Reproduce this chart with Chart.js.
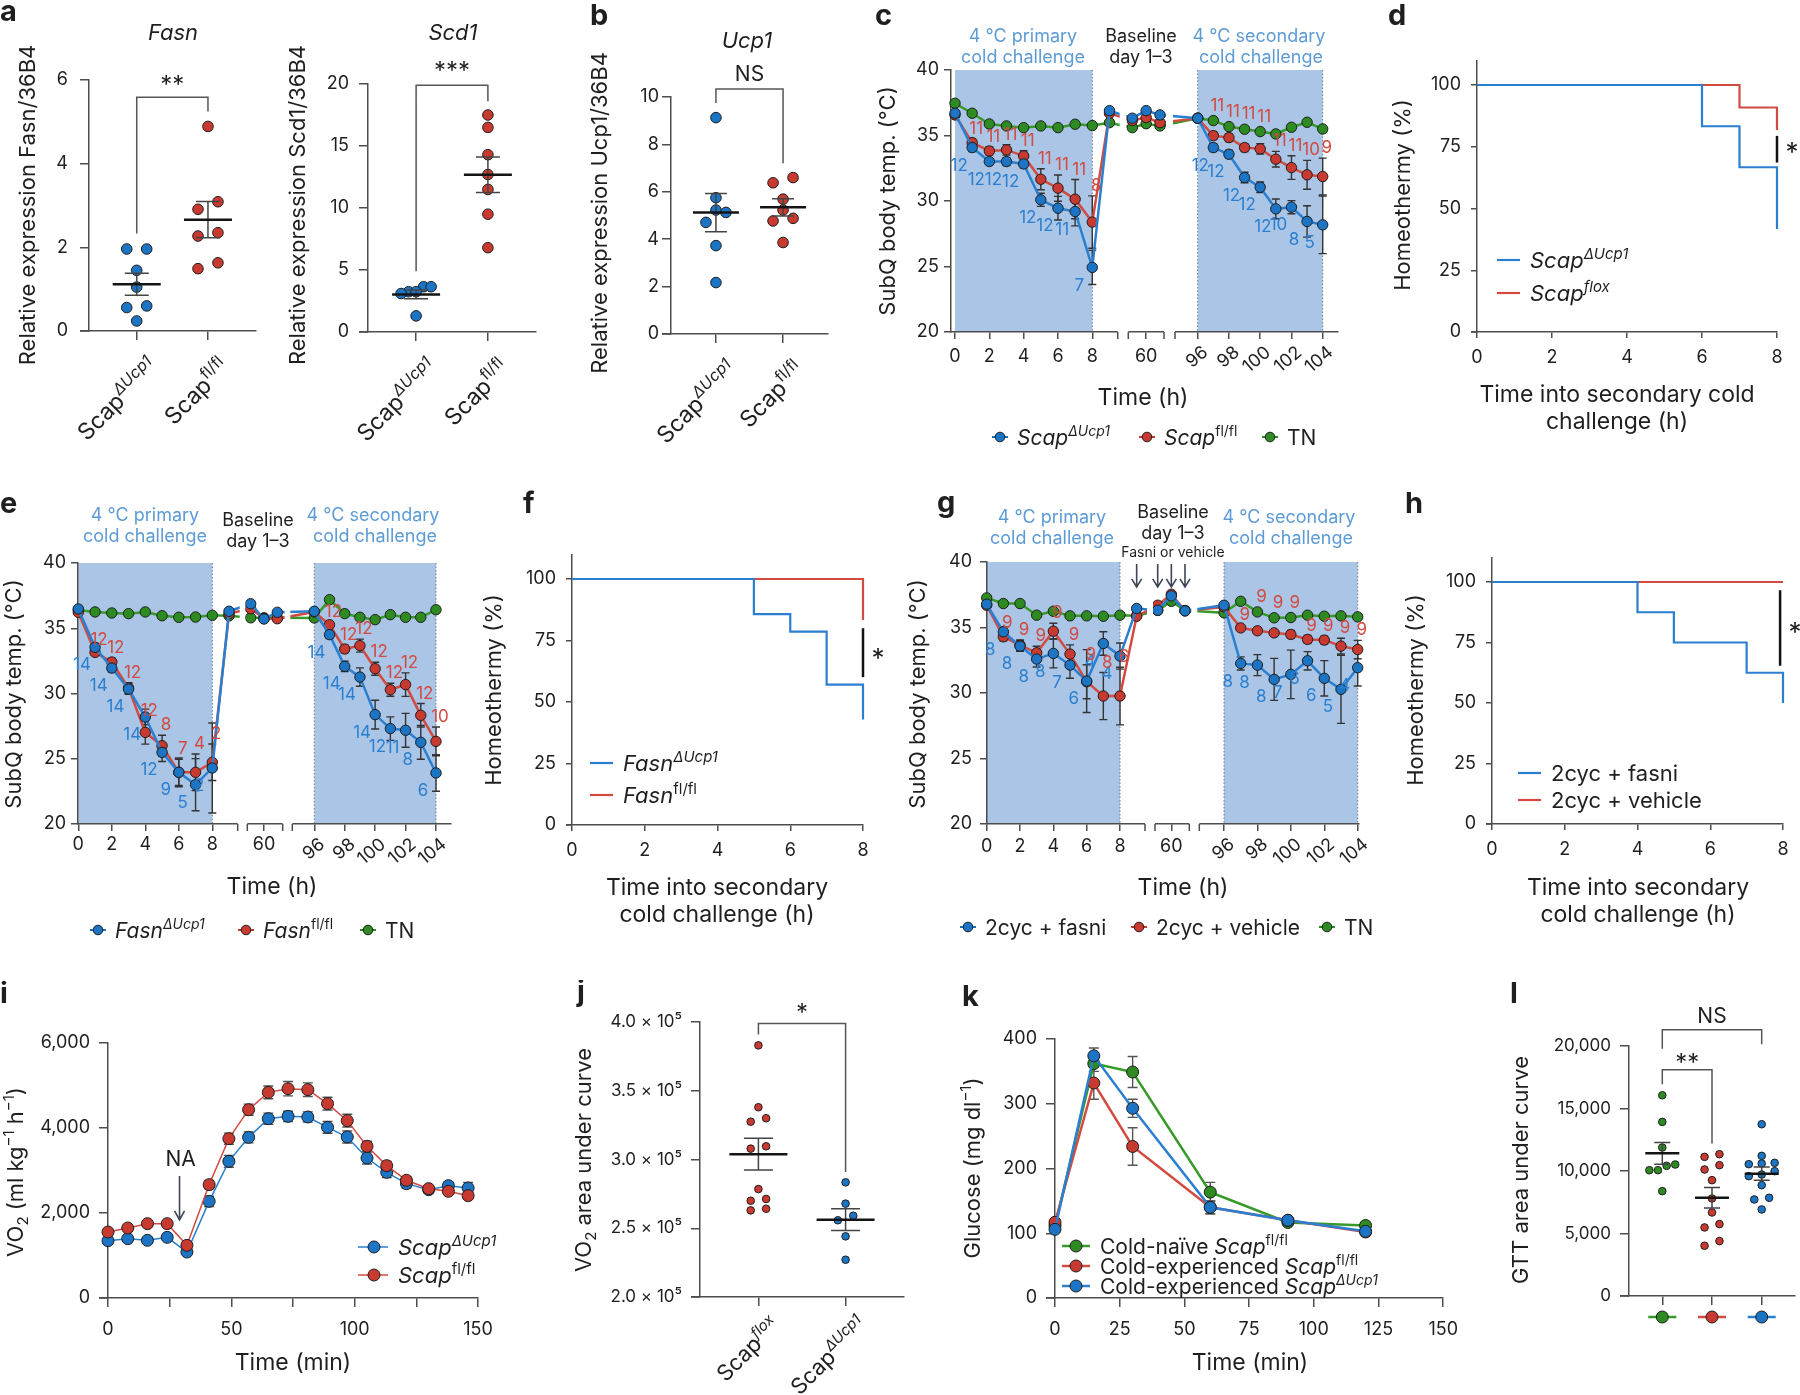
<!DOCTYPE html>
<html>
<head>
<meta charset="utf-8">
<title>Scap / Fasn cold challenge figure</title>
<script src="https://cdn.jsdelivr.net/npm/chart.js@4.4.0/dist/chart.umd.min.js"></script>
<style>
  html, body { margin: 0; padding: 0; background: #fff; }
  #fig { position: relative; width: 1800px; height: 1395px; overflow: hidden; background: #fff; }
  #fig canvas { position: absolute; }
</style>
</head>
<body>
<div id="fig"></div>
<script>
// ===================== values =====================

// a / b: qPCR, relative expression over 36B4
var fasnKO = [1.96, 1.96, 1.45, 1.05, 0.60, 0.56, 0.24];
var fasnWT = [4.89, 3.09, 2.91, 2.35, 2.27, 1.63, 1.49];
var scd1KO = [3.65, 3.65, 3.25, 3.25, 3.10, 1.30];
var scd1WT = [17.5, 16.5, 14.3, 12.7, 11.5, 9.5, 6.8];
var ucp1KO = [9.13, 5.75, 5.23, 5.13, 4.71, 3.73, 2.17];
var ucp1WT = [6.60, 6.38, 5.69, 5.23, 4.88, 4.77, 3.86];
var fasnTicks = [0, 2, 4, 6];
var scd1Ticks = [0, 5, 10, 15, 20];
var ucp1Ticks = [0, 2, 4, 6, 8, 10];

// c / e / g: SubQ temperature, hours (broken axis)
var tempTime  = [0, 1, 2, 3, 4, 5, 6, 7, 8, 9, 48, 60, 72, 96, 97, 98, 99, 100, 101, 102, 103, 104];
var tempTicks = [0, 2, 4, 6, 8, 60, 96, 98, 100, 102, 104];
var tempYTicks = [20, 25, 30, 35, 40];

var cKO    = [36.70, 34.08, 33.01, 33.01, 32.83, 30.09, 29.45, 29.20, 24.93, 36.90, 36.32, 36.90, 36.57, 36.32, 34.08, 33.57, 31.79, 31.05, 29.40, 29.53, 28.44, 28.18];
var cKOerr = [0.2, 0.3, 0.2, 0.3, 0.3, 0.5, 0.9, 1.1, 1.3, 0.1, 0.1, 0.1, 0.1, 0.1, 0.3, 0.3, 0.4, 0.4, 0.75, 0.5, 1.2, 2.2];
var cKOn   = [0, 12, 12, 12, 12, 12, 12, 11, 7, 0, 0, 0, 0, 0, 12, 12, 12, 12, 12, 10, 8, 5];
var cWT    = [36.57, 34.46, 33.82, 33.90, 33.44, 31.66, 30.98, 30.14, 28.39, 36.70, 36.14, 36.37, 35.98, 36.32, 34.99, 34.84, 34.08, 33.98, 33.19, 32.55, 32.00, 31.87];
var cWTerr = [0.2, 0.3, 0.3, 0.4, 0.4, 0.8, 1.0, 1.5, 2.0, 0.1, 0.1, 0.1, 0.1, 0.1, 0.3, 0.3, 0.3, 0.4, 0.6, 0.9, 1.1, 1.4];
var cWTn   = [0, 11, 11, 11, 11, 11, 11, 11, 8, 0, 0, 0, 0, 0, 11, 11, 11, 11, 11, 11, 10, 9];
var cTN    = [37.46, 36.70, 35.88, 35.73, 35.60, 35.73, 35.60, 35.86, 35.76, 35.98, 35.60, 35.90, 35.73, 36.32, 36.14, 35.68, 35.48, 35.30, 35.12, 35.63, 36.01, 35.50];

var eKO    = [36.48, 33.54, 31.95, 30.34, 28.20, 25.49, 23.96, 23.01, 24.29, 36.30, 36.88, 35.71, 36.22, 36.30, 34.51, 32.08, 31.26, 28.38, 27.31, 27.18, 26.26, 23.91];
var eKOerr = [0.1, 0.3, 0.3, 0.4, 0.6, 0.7, 1.1, 2.0, 3.45, 0.1, 0.1, 0.1, 0.1, 0.1, 0.3, 0.4, 0.7, 1.1, 0.9, 1.3, 1.3, 1.4];
var eKOn   = [0, 14, 14, 14, 14, 12, 9, 5, 2, 0, 0, 0, 0, 0, 14, 14, 14, 14, 12, 11, 8, 6];
var eWT    = [36.22, 33.15, 32.41, 30.42, 27.02, 26.00, 23.96, 23.96, 24.73, 36.12, 36.50, 35.75, 35.73, 36.25, 35.27, 33.41, 33.67, 31.90, 30.29, 30.68, 28.33, 26.33];
var eWTerr = [0.1, 0.2, 0.3, 0.4, 0.9, 0.8, 1.0, 1.4, 1.4, 0.1, 0.1, 0.1, 0.1, 0.1, 0.2, 0.3, 0.5, 0.5, 0.5, 0.9, 0.9, 1.1];
var eWTn   = [0, 12, 12, 12, 12, 8, 7, 4, 2, 0, 0, 0, 0, 0, 12, 12, 12, 12, 12, 12, 12, 10];
var eTN    = [36.40, 36.25, 36.17, 36.12, 36.25, 35.96, 35.84, 35.86, 35.99, 35.95, 35.80, 35.80, 35.80, 35.79, 37.19, 36.12, 35.84, 35.66, 36.04, 35.84, 35.84, 36.42];

var gFas    = [36.78, 34.67, 33.58, 32.59, 33.02, 32.13, 30.91, 33.78, 32.82, 36.45, 36.32, 37.41, 36.27, 36.70, 32.26, 32.13, 31.04, 31.42, 32.46, 31.12, 30.28, 31.93];
var gFasErr = [0.1, 0.4, 0.4, 0.6, 1.1, 1.0, 2.4, 0.9, 1.0, 0.1, 0.1, 0.2, 0.1, 0.1, 0.5, 0.8, 1.6, 1.85, 0.7, 1.35, 2.6, 1.4];
var gFasN   = [0, 8, 8, 8, 8, 7, 6, 4, 4, 0, 0, 0, 0, 0, 8, 8, 8, 7, 6, 6, 5, 4];
var gVeh    = [36.70, 34.29, 33.65, 33.07, 34.72, 32.97, 30.86, 29.77, 29.77, 35.86, 36.70, 37.54, 36.27, 36.57, 34.97, 34.75, 34.59, 34.47, 34.09, 34.04, 33.58, 33.32];
var gVehErr = [0.1, 0.3, 0.4, 0.5, 0.6, 0.7, 1.3, 1.8, 2.2, 0.1, 0.1, 0.1, 0.1, 0.1, 0.2, 0.2, 0.2, 0.3, 0.3, 0.3, 0.6, 0.7];
var gVehN   = [0, 9, 9, 9, 9, 9, 9, 8, 6, 0, 0, 0, 0, 0, 9, 9, 9, 9, 9, 9, 9, 9];
var gTN     = [37.26, 36.83, 36.83, 35.94, 36.24, 35.89, 35.89, 35.86, 35.94, 35.90, 36.30, 37.00, 36.30, 36.12, 37.00, 36.19, 35.74, 35.76, 35.94, 35.86, 35.89, 35.81];

// d / f / h: homeothermy (%) during the secondary challenge
var survXTicks = [0, 2, 4, 6, 8];
var survYTicks = [0, 25, 50, 75, 100];
var dTimeKO = [0, 6, 7, 8],    dSurvKO = [100, 83.3, 66.7, 41.7];
var dTimeWT = [0, 7, 8],       dSurvWT = [100, 90.9, 81.8];
var fTimeKO = [0, 5, 6, 7, 8], fSurvKO = [100, 85.7, 78.6, 57.1, 42.9];
var fTimeWT = [0, 8],          fSurvWT = [100, 83.3];
var hTimeKO = [0, 4, 5, 7, 8], hSurvKO = [100, 87.5, 75, 62.5, 50];
var hTimeWT = [0, 8],          hSurvWT = [100, 100];

// i: VO2 after NA
var iTime  = [0, 8, 16, 24, 32, 41, 49, 57, 65, 73, 81, 89, 97, 105, 113, 121, 130, 138, 146];
var iKO    = [1349, 1396, 1357, 1427, 1082, 2274, 3216, 3780, 4220, 4274, 4259, 4016, 3788, 3294, 2957, 2690, 2549, 2643, 2588];
var iKOerr = [60, 60, 60, 60, 60, 120, 140, 130, 130, 120, 120, 140, 140, 140, 120, 100, 80, 80, 130];
var iWT    = [1553, 1647, 1749, 1749, 1239, 2667, 3749, 4431, 4839, 4925, 4902, 4573, 4173, 3569, 3114, 2769, 2573, 2510, 2408];
var iWTerr = [60, 60, 60, 60, 60, 100, 130, 130, 150, 170, 160, 150, 150, 120, 100, 80, 70, 70, 70];
var iXTicks = [0, 25, 50, 75, 100, 125, 150];
var iYTicks = [0, 2000, 4000, 6000];

// j: VO2 area under curve
var jFlox = [383000, 338000, 330000, 327500, 309600, 307900, 278500, 271300, 270000, 264200, 263000];
var jKO   = [283400, 267900, 259100, 255800, 244100, 227100];
var jYTicks = [200000, 250000, 300000, 350000, 400000];

// k: GTT
var kTime     = [0, 15, 30, 60, 90, 120];
var kNaive    = [112, 362, 349, 163.5, 116.7, 112];
var kNaiveErr = [4, 12, 24, 15, 4, 3];
var kWT       = [117, 332, 234, 140, 120, 102];
var kWTerr    = [4, 25, 29, 10, 4, 3];
var kKO       = [106, 374, 293, 140, 120, 103];
var kKOerr    = [4, 12, 14, 10, 4, 3];
var kXTicks = [0, 25, 50, 75, 100, 125, 150];
var kYTicks = [0, 100, 200, 300, 400];

// l: GTT area under curve
var lNaive = [16058, 13928, 11877, 10519, 10413, 10066, 10066, 8388];
var lWT    = [11344, 11131, 10466, 10119, 9267, 7803, 6684, 5752, 5486, 4394, 4021];
var lKO    = [13741, 11211, 10652, 10599, 10545, 9986, 9720, 9587, 8868, 7856, 7723, 6924];
var lYTicks = [0, 5000, 10000, 15000, 20000];

// ===================== style =====================
var FONT = 'Inter, "Liberation Sans", Arial, sans-serif';
var INK = '#1f1f1f', AXIS = '#4d4d4d';
var BLUE = '#1c74c4', RED = '#c83a30', GREEN = '#2e8b22';
var BLUE_LN = '#2a7fd0', RED_LN = '#d24a40', GREEN_LN = '#359a26';
var SHADE = '#aac5e6', HEAD = '#5d9bd6', ARROW = '#3d4656';
var TICK = 18, TITLE = 23;

Chart.defaults.font.family = FONT;
Chart.defaults.color = INK;

var fig = document.getElementById('fig');

function fnt(size, p) { return (p && p.it ? 'italic ' : '') + (p && p.b ? 'bold ' : '') + size + 'px ' + FONT; }
function mean(a) { return a.reduce(function(s, v) { return s + v; }, 0) / a.length; }
function sem(a) {
  var m = mean(a);
  var ss = a.reduce(function(s, v) { return s + (v - m) * (v - m); }, 0);
  return Math.sqrt(ss / (a.length - 1)) / Math.sqrt(a.length);
}
var comma = function(v) { return v.toLocaleString('en-US'); };

function txt(ctx, s, x, y, o) {
  o = o || {};
  ctx.save();
  ctx.font = fnt(o.size || TICK, o);
  ctx.fillStyle = o.color || INK;
  ctx.textAlign = o.align || 'center';
  ctx.textBaseline = o.base || 'middle';
  ctx.translate(x, y);
  if (o.rot) ctx.rotate(o.rot);
  ctx.fillText(s, 0, 0);
  ctx.restore();
}

// text made of pieces: {t, it, sup, sub}
function rich(ctx, parts, x, y, o) {
  o = o || {};
  var size = o.size || 21, small = Math.round(size * 0.68);
  ctx.save();
  ctx.translate(x, y);
  if (o.rot) ctx.rotate(o.rot);
  ctx.textAlign = 'left';
  ctx.textBaseline = 'alphabetic';
  ctx.fillStyle = o.color || INK;
  var ws = parts.map(function(p) { ctx.font = fnt(p.sup || p.sub ? small : size, p); return ctx.measureText(p.t).width; });
  var total = ws.reduce(function(a, b) { return a + b; }, 0);
  var cx = o.align === 'right' ? -total : o.align === 'center' ? -total / 2 : 0;
  var by = o.mid ? size * 0.36 : 0;
  parts.forEach(function(p, i) {
    ctx.font = fnt(p.sup || p.sub ? small : size, p);
    ctx.fillText(p.t, cx, by + (p.sup ? -size * 0.42 : p.sub ? size * 0.22 : 0));
    cx += ws[i];
  });
  ctx.restore();
}

function star(ctx, s, x, y, size) {
  size = size || 24;
  txt(ctx, s, x, y + size * 0.55, { size: size, base: 'alphabetic' });
}
function letter(ctx, s, x, y) { txt(ctx, s, x, y, { size: 29, b: true, align: 'left', base: 'alphabetic' }); }
function yTitle(ctx, parts, x, y, size) { rich(ctx, parts, x, y, { rot: -Math.PI / 2, align: 'center', mid: true, size: size || 22 }); }
function extAxis(ctx, area, len) {
  ctx.strokeStyle = AXIS; ctx.lineWidth = 1.5;
  ctx.beginPath(); ctx.moveTo(area[0] - len, area[3]); ctx.lineTo(area[0], area[3]); ctx.stroke();
}

function linAxis(min, max, ticks, o) {
  o = o || {};
  return {
    type: 'linear', min: min, max: max,
    afterBuildTicks: function(s) { s.ticks = ticks.map(function(v) { return { value: v }; }); },
    ticks: {
      display: !o.hide, padding: o.pad == null ? 9 : o.pad, autoSkip: false, maxRotation: 0, minRotation: 0,
      font: { size: o.size || TICK, family: FONT }, color: INK,
      callback: o.fmt || function(v) { return String(v); }
    },
    grid: { display: true, drawOnChartArea: false, drawTicks: true, tickLength: o.tick || 8, color: AXIS, lineWidth: 1.5 },
    border: { display: true, color: AXIS, width: 1.5 }
  };
}

// one canvas per panel; box / area are page pixels [x, y, w, h] / [l, t, r, b]
function makeChart(type, box, area, datasets, scales, deco) {
  var cv = document.createElement('canvas');
  cv.width = box[2]; cv.height = box[3];
  cv.style.left = box[0] + 'px'; cv.style.top = box[1] + 'px';
  cv.style.width = box[2] + 'px'; cv.style.height = box[3] + 'px';
  fig.appendChild(cv);
  scales.x.afterFit = function(s) { s.height = box[1] + box[3] - area[3]; };
  scales.y.afterFit = function(s) { s.width = area[0] - box[0]; };
  function hook(name) {
    return function(chart) {
      if (!deco[name]) return;
      var ctx = chart.ctx;
      ctx.save();
      ctx.translate(-box[0], -box[1]);
      var X = function(v) { return chart.scales.x.getPixelForValue(v) + box[0]; };
      var Y = function(v) { return chart.scales.y.getPixelForValue(v) + box[1]; };
      deco[name](ctx, X, Y);
      ctx.restore();
    };
  }
  return new Chart(cv, {
    type: type,
    data: { datasets: datasets },
    options: {
      responsive: false, animation: false, devicePixelRatio: 1, events: [],
      layout: { padding: { left: 0, top: area[1] - box[1], right: box[0] + box[2] - area[2], bottom: 0 } },
      scales: scales,
      plugins: { legend: { display: false }, tooltip: { enabled: false } }
    },
    plugins: [{ id: 'deco', beforeDraw: hook('under'), beforeDatasetsDraw: hook('mid'),
                afterDatasetsDraw: hook('over'), afterDraw: hook('top') }]
  });
}

// ---------- dot plots (a, b, j, l) ----------
function swarm(vals, ppy, ppx, d, sMax, wMax) {
  var idx = vals.map(function(v, i) { return i; }).sort(function(a, b) { return vals[a] - vals[b]; });
  var off = [], row = [];
  function flush() {
    var k = row.length, s = k > 1 ? Math.min(sMax, wMax / (k - 1)) : 0;
    row.forEach(function(i, j) { off[i] = (j - (k - 1) / 2) * s / ppx; });
    row = [];
  }
  idx.forEach(function(i) {
    if (row.length && (vals[i] - vals[row[0]]) * ppy > d) flush();
    row.push(i);
  });
  flush();
  return off;
}

function meanSem(ctx, X, Y, cat, vals, halfW, capW) {
  var m = mean(vals), se = sem(vals), x = X(cat);
  ctx.strokeStyle = '#444'; ctx.lineWidth = 1.5;
  ctx.beginPath();
  ctx.moveTo(x, Y(m + se)); ctx.lineTo(x, Y(m - se));
  ctx.moveTo(x - capW, Y(m + se)); ctx.lineTo(x + capW, Y(m + se));
  ctx.moveTo(x - capW, Y(m - se)); ctx.lineTo(x + capW, Y(m - se));
  ctx.stroke();
  ctx.strokeStyle = '#141414'; ctx.lineWidth = 2.5;
  ctx.beginPath(); ctx.moveTo(x - halfW, Y(m)); ctx.lineTo(x + halfW, Y(m)); ctx.stroke();
}

function bracket(ctx, X, Y, b) {
  var x1 = X(b.c1), x2 = X(b.c2), yt = Y(b.top);
  ctx.strokeStyle = '#555'; ctx.lineWidth = 1.5;
  ctx.beginPath();
  ctx.moveTo(x1, Y(b.l1)); ctx.lineTo(x1, yt); ctx.lineTo(x2, yt); ctx.lineTo(x2, Y(b.l2));
  ctx.stroke();
  if (b.label.indexOf('*') >= 0) star(ctx, b.label, (x1 + x2) / 2, Y(b.ly), 24);
  else txt(ctx, b.label, (x1 + x2) / 2, Y(b.ly), { size: 21 });
}

function dotPanel(o) {
  var area = o.area, n = o.groups.length, xmin = 0.33, xmax = n + 0.67;
  var ppx = (area[2] - area[0]) / (xmax - xmin), ppy = (area[3] - area[1]) / (o.ymax - o.ymin);
  var datasets = o.groups.map(function(g, gi) {
    var off = swarm(g.vals, ppy, ppx, o.r * 2, o.sMax, o.wMax);
    return {
      data: g.vals.map(function(v, i) { return { x: gi + 1 + off[i], y: v }; }),
      backgroundColor: g.color, borderColor: '#1e1e1e', borderWidth: 1, pointRadius: o.r, clip: false
    };
  });
  var cats = o.groups.map(function(g, i) { return i + 1; });
  var scales = {
    x: linAxis(xmin, xmax, cats, { hide: true, tick: 9 }),
    y: linAxis(o.ymin, o.ymax, o.yticks, { fmt: o.yfmt, size: o.tickSize, pad: o.ypad, tick: 9 })
  };
  var lab = o.labAt || [20, 36, 23];
  makeChart('scatter', o.box, area, datasets, scales, {
    over: function(ctx, X, Y) {
      o.groups.forEach(function(g, gi) { meanSem(ctx, X, Y, gi + 1, g.vals, o.meanW, o.capW); });
      (o.brackets || []).forEach(function(b) { bracket(ctx, X, Y, b); });
    },
    top: function(ctx, X, Y) {
      extAxis(ctx, area, 9);
      if (o.catLabels) o.catLabels.forEach(function(p, i) {
        rich(ctx, p, X(i + 1) + lab[0], area[3] + lab[1], { rot: -Math.PI / 4, align: 'right', size: lab[2] });
      });
      if (o.extra) o.extra(ctx, X, Y);
    }
  });
}

// ---------- broken-axis temperature panels (c, e, g) ----------
function breakMap(segs) {
  return function(t) {
    for (var i = 0; i < segs.length; i++) {
      var s = segs[i];
      if (i === segs.length - 1 || t < segs[i + 1].from) return s.p0 + (t - s.t0) * (s.p1 - s.p0) / (s.t1 - s.t0);
    }
  };
}

function keyDot(ctx, x, y, color) {
  ctx.strokeStyle = color; ctx.lineWidth = 2;
  ctx.beginPath(); ctx.moveTo(x - 8, y); ctx.lineTo(x + 8, y); ctx.stroke();
  ctx.beginPath(); ctx.arc(x, y, 4.8, 0, Math.PI * 2);
  ctx.fillStyle = color; ctx.fill();
  ctx.lineWidth = 1; ctx.strokeStyle = '#1e1e1e'; ctx.stroke();
}

function errBars(ctx, X, Y, xs, vals, errs, cap, color) {
  ctx.strokeStyle = color || '#333'; ctx.lineWidth = 1.4;
  xs.forEach(function(xv, i) {
    var e = errs[i], x = X(xv), y1 = Y(vals[i] + e), y2 = Y(vals[i] - e);
    ctx.beginPath();
    ctx.moveTo(x, y1); ctx.lineTo(x, y2);
    ctx.moveTo(x - cap, y1); ctx.lineTo(x + cap, y1);
    ctx.moveTo(x - cap, y2); ctx.lineTo(x + cap, y2);
    ctx.stroke();
  });
}

function tempPanel(o) {
  var area = o.area, brk = breakMap(o.segs);
  var xs = tempTime.map(brk);
  var datasets = o.series.map(function(s) {
    return {
      data: tempTime.map(function(t, i) { return { x: xs[i], y: s.vals[i] }; }),
      borderColor: s.line, backgroundColor: s.fill, pointBackgroundColor: s.fill,
      pointBorderColor: '#1e1e1e', pointBorderWidth: 1, pointRadius: 5.2, borderWidth: 2.5,
      tension: 0, clip: false
    };
  });
  var scales = {
    x: linAxis(area[0], area[2], tempTicks.map(brk), { hide: true, tick: 7 }),
    y: linAxis(20, 40, tempYTicks, { pad: o.ypad, tick: 7 })
  };
  makeChart('line', o.box, area, datasets, scales, {
    under: function(ctx, X, Y) {
      var top = Y(40), bot = Y(20);
      ctx.fillStyle = SHADE;
      [[0, 8], [96, 104]].forEach(function(r) {
        ctx.fillRect(X(brk(r[0])), top, X(brk(r[1])) - X(brk(r[0])), bot - top);
      });
      ctx.strokeStyle = '#6b7a90'; ctx.lineWidth = 1; ctx.setLineDash([1.5, 2]);
      [8, 96, 104].forEach(function(t) {
        var x = X(brk(t));
        ctx.beginPath(); ctx.moveTo(x, top); ctx.lineTo(x, bot); ctx.stroke();
      });
      ctx.setLineDash([]);
    },
    mid: function(ctx, X, Y) {
      o.series.forEach(function(s) { if (s.err) errBars(ctx, X, Y, xs, s.vals, s.err, 4, '#333'); });
    },
    over: function(ctx, X, Y) {
      var top = Y(40), bot = Y(20);
      o.gaps.forEach(function(g) {
        ctx.fillStyle = '#fff';
        ctx.fillRect(g[0] + 2, top - 2, g[1] - g[0] - 4, bot - top + 2);
        ctx.fillRect(g[0], bot - 2, g[1] - g[0], 4);
        ctx.strokeStyle = AXIS; ctx.lineWidth = 1.5;
        ctx.beginPath();
        ctx.moveTo(g[0], bot); ctx.lineTo(g[0], bot + 7);
        ctx.moveTo(g[1], bot); ctx.lineTo(g[1], bot + 7);
        ctx.stroke();
      });
      // group sizes: KO below-left; control above its error bar,
      // or above the TN line when that sits close during the secondary challenge
      o.series.forEach(function(s) {
        if (!s.n) return;
        s.n.forEach(function(k, i) {
          if (!k) return;
          var x = X(xs[i]);
          if (s.below) { txt(ctx, String(k), x - 13, Y(s.vals[i]) + 18, { size: 17, color: s.line }); return; }
          var topV = s.vals[i] + s.err[i], y = Y(topV) - 10;
          if (s.avoid && tempTime[i] >= 96 && s.avoid[i] > topV && s.avoid[i] - topV < 1.3) y = Y(s.avoid[i]) - 15;
          txt(ctx, String(k), x + 4, y, { size: 17, color: s.line });
        });
      });
    },
    top: function(ctx, X, Y) {
      var bot = Y(20);
      tempTicks.forEach(function(t) {
        var x = X(brk(t));
        if (t >= 96) {
          txt(ctx, String(t), x + 8, bot + 18, { size: TICK, align: 'right', rot: -40 * Math.PI / 180 });
        } else {
          txt(ctx, String(t), x, bot + o.tickDy, { size: TICK });
        }
      });
      o.extra(ctx, X, Y, brk);
    }
  });
}

function headers(ctx, h) {
  txt(ctx, '4 °C primary', h[0], h[1], { size: 18, color: HEAD });
  txt(ctx, 'cold challenge', h[0], h[1] + 21, { size: 18, color: HEAD });
  txt(ctx, 'Baseline', h[2], h[3], { size: 18 });
  txt(ctx, 'day 1–3', h[2], h[3] + 21, { size: 18 });
  txt(ctx, '4 °C secondary', h[4], h[5], { size: 18, color: HEAD });
  txt(ctx, 'cold challenge', h[4] + 2, h[5] + 21, { size: 18, color: HEAD });
}

function keyRow(ctx, items, y) {
  items.forEach(function(it) {
    keyDot(ctx, it.x, y, it.color);
    rich(ctx, it.parts, it.x + 17, y, { size: 21, mid: true });
  });
}

// ---------- survival panels (d, f, h) ----------
function kmPanel(o) {
  var area = o.area;
  var datasets = o.series.map(function(s) {
    return {
      data: s.t.map(function(t, i) { return { x: t, y: s.v[i] }; }),
      borderColor: s.color, borderWidth: 2.2, pointRadius: 0, stepped: true, fill: false, clip: false
    };
  });
  var scales = {
    x: linAxis(0, 8, survXTicks, { tick: 6, pad: 9 }),
    y: linAxis(0, 110, survYTicks, { tick: 6, pad: 10 })
  };
  makeChart('line', o.box, area, datasets, scales, {
    top: function(ctx, X, Y) {
      extAxis(ctx, area, 6);
      ctx.strokeStyle = '#111'; ctx.lineWidth = 2.5;
      ctx.beginPath(); ctx.moveTo(X(o.sig[0]), Y(o.sig[1])); ctx.lineTo(X(o.sig[0]), Y(o.sig[2])); ctx.stroke();
      star(ctx, '*', X(o.sig[0]) + 15, Y(o.sig[3]), 26);
      o.series.forEach(function(s, i) {
        var y = o.key[1] + i * o.key[2];
        ctx.strokeStyle = s.color; ctx.lineWidth = 2.2;
        ctx.beginPath(); ctx.moveTo(o.key[0], y); ctx.lineTo(o.key[0] + 23, y); ctx.stroke();
        rich(ctx, s.parts, o.key[0] + 33, y, { size: 22, mid: true });
      });
      yTitle(ctx, [{ t: 'Homeothermy (%)' }], o.yt[0], o.yt[1]);
      txt(ctx, o.xt[0], o.xt[2], o.xt[3], { size: TITLE });
      txt(ctx, o.xt[1], o.xt[2], o.xt[3] + 27, { size: TITLE });
      letter(ctx, o.letter[0], o.letter[1], o.letter[2]);
    }
  });
}

// ===================== panels =====================
var KO_LBL = [{ t: 'Scap' }, { t: 'ΔUcp1', it: true, sup: true }];
var WT_LBL = [{ t: 'Scap' }, { t: 'fl/fl', sup: true }];

// a: Fasn
dotPanel({
  box: [0, 0, 262, 450], area: [89, 80, 256, 331], ymin: 0, ymax: 6, yticks: fasnTicks, ypad: 12,
  groups: [{ vals: fasnKO, color: BLUE }, { vals: fasnWT, color: RED }],
  r: 5.3, sMax: 20, wMax: 30, meanW: 24, capW: 12, catLabels: [KO_LBL, WT_LBL], labAt: [23, 38, 23],
  brackets: [{ c1: 1, c2: 2, top: 5.59, l1: 2.33, l2: 5.25, label: '**', ly: 6.0 }],
  extra: function(ctx) {
    letter(ctx, 'a', 0, 21);
    txt(ctx, 'Fasn', 173, 33, { size: 22, it: true });
    yTitle(ctx, [{ t: 'Relative expression Fasn/36B4' }], 27, 205);
  }
});

// a: Scd1
dotPanel({
  box: [262, 0, 288, 450], area: [368, 84, 536, 332], ymin: 0, ymax: 20, yticks: scd1Ticks, ypad: 10,
  groups: [{ vals: scd1KO, color: BLUE }, { vals: scd1WT, color: RED }],
  r: 5.3, sMax: 20, wMax: 30, meanW: 24, capW: 12, catLabels: [KO_LBL, WT_LBL], labAt: [23, 38, 23],
  brackets: [{ c1: 1, c2: 2, top: 19.9, l1: 4.9, l2: 18.6, label: '***', ly: 21.5 }],
  extra: function(ctx) {
    txt(ctx, 'Scd1', 453, 33, { size: 22, it: true });
    yTitle(ctx, [{ t: 'Relative expression Scd1/36B4' }], 297, 205);
  }
});

// b: Ucp1
dotPanel({
  box: [550, 0, 290, 450], area: [671, 97, 828, 334], ymin: 0, ymax: 10, yticks: ucp1Ticks, ypad: 3,
  groups: [{ vals: ucp1KO, color: BLUE }, { vals: ucp1WT, color: RED }],
  r: 5.3, sMax: 20, wMax: 30, meanW: 23, capW: 11, catLabels: [KO_LBL, WT_LBL], labAt: [23, 38, 23],
  brackets: [{ c1: 1, c2: 2, top: 10.34, l1: 9.75, l2: 7.2, label: 'NS', ly: 10.93 }],
  extra: function(ctx) {
    letter(ctx, 'b', 590, 25);
    txt(ctx, 'Ucp1', 747, 41, { size: 22, it: true });
    yTitle(ctx, [{ t: 'Relative expression Ucp1/36B4' }], 599, 213);
  }
});

// c: Scap, SubQ temperature
tempPanel({
  box: [840, 0, 520, 460], area: [951, 70, 1338, 332], ypad: 5, tickDy: 25,
  segs: [{ t0: 0, t1: 8, p0: 955, p1: 1092.3, from: -1 }, { t0: 48, t1: 72, p0: 1132.3, p1: 1160, from: 20 },
         { t0: 96, t1: 104, p0: 1197.7, p1: 1322.7, from: 85 }],
  gaps: [[1117.7, 1128.3], [1164, 1175]],
  series: [
    { vals: cKO, err: cKOerr, n: cKOn, fill: BLUE, line: BLUE_LN, below: true },
    { vals: cWT, err: cWTerr, n: cWTn, fill: RED, line: RED_LN, avoid: cTN },
    { vals: cTN, fill: GREEN, line: GREEN_LN }
  ],
  extra: function(ctx) {
    letter(ctx, 'c', 875, 25);
    headers(ctx, [1023, 37, 1141, 37, 1259, 37]);
    yTitle(ctx, [{ t: 'SubQ body temp. (°C)' }], 887, 201);
    txt(ctx, 'Time (h)', 1143, 398, { size: TITLE });
    keyRow(ctx, [
      { x: 1000, color: BLUE, parts: [{ t: 'Scap', it: true }, { t: 'ΔUcp1', it: true, sup: true }] },
      { x: 1147, color: RED, parts: [{ t: 'Scap', it: true }, { t: 'fl/fl', sup: true }] },
      { x: 1270, color: GREEN, parts: [{ t: 'TN' }] }
    ], 437);
  }
});

// d: Scap homeothermy
kmPanel({
  box: [1360, 0, 440, 450], area: [1477, 60.3, 1777, 332],
  series: [
    { t: dTimeKO, v: dSurvKO, color: BLUE_LN, parts: [{ t: 'Scap', it: true }, { t: 'ΔUcp1', it: true, sup: true }] },
    { t: dTimeWT, v: dSurvWT, color: RED_LN, parts: [{ t: 'Scap', it: true }, { t: 'flox', it: true, sup: true }] }
  ],
  sig: [8, 79.4, 68.6, 74.9], key: [1497, 260, 33],
  yt: [1402, 195], xt: ['Time into secondary cold', 'challenge (h)', 1617, 395], letter: ['d', 1388, 25]
});

// e: Fasn, SubQ temperature
tempPanel({
  box: [0, 490, 470, 460], area: [78, 563, 451, 824], ypad: 5, tickDy: 21,
  segs: [{ t0: 0, t1: 8, p0: 78.3, p1: 212.3, from: -1 }, { t0: 48, t1: 72, p0: 250.7, p1: 277.3, from: 20 },
         { t0: 96, t1: 104, p0: 314.3, p1: 436, from: 85 }],
  gaps: [[237.7, 247.3], [282.7, 292.3]],
  series: [
    { vals: eKO, err: eKOerr, n: eKOn, fill: BLUE, line: BLUE_LN, below: true },
    { vals: eWT, err: eWTerr, n: eWTn, fill: RED, line: RED_LN },
    { vals: eTN, fill: GREEN, line: GREEN_LN }
  ],
  extra: function(ctx) {
    letter(ctx, 'e', 0, 513);
    headers(ctx, [145, 516, 258, 521, 373, 516]);
    yTitle(ctx, [{ t: 'SubQ body temp. (°C)' }], 13, 694);
    txt(ctx, 'Time (h)', 272, 887, { size: TITLE });
    keyRow(ctx, [
      { x: 98, color: BLUE, parts: [{ t: 'Fasn', it: true }, { t: 'ΔUcp1', it: true, sup: true }] },
      { x: 246, color: RED, parts: [{ t: 'Fasn', it: true }, { t: 'fl/fl', sup: true }] },
      { x: 368, color: GREEN, parts: [{ t: 'TN' }] }
    ], 930);
  }
});

// f: Fasn homeothermy
kmPanel({
  box: [470, 490, 420, 450], area: [572, 554.4, 863, 825],
  series: [
    { t: fTimeKO, v: fSurvKO, color: BLUE_LN, parts: [{ t: 'Fasn', it: true }, { t: 'ΔUcp1', it: true, sup: true }] },
    { t: fTimeWT, v: fSurvWT, color: RED_LN, parts: [{ t: 'Fasn', it: true }, { t: 'fl/fl', sup: true }] }
  ],
  sig: [8, 80.0, 60.1, 69.9], key: [590, 763, 32],
  yt: [493, 690], xt: ['Time into secondary', 'cold challenge (h)', 717, 888], letter: ['f', 523, 513]
});

// g: 2cyc + fasni / vehicle
tempPanel({
  box: [890, 490, 490, 460], area: [987, 562, 1359, 824], ypad: 8, tickDy: 23,
  segs: [{ t0: 0, t1: 8, p0: 986.7, p1: 1120, from: -1 }, { t0: 48, t1: 72, p0: 1157.7, p1: 1185, from: 20 },
         { t0: 96, t1: 104, p0: 1224, p1: 1357.7, from: 85 }],
  gaps: [[1145, 1155], [1189.3, 1199.3]],
  series: [
    { vals: gFas, err: gFasErr, n: gFasN, fill: BLUE, line: BLUE_LN, below: true },
    { vals: gVeh, err: gVehErr, n: gVehN, fill: RED, line: RED_LN, avoid: gTN },
    { vals: gTN, fill: GREEN, line: GREEN_LN }
  ],
  extra: function(ctx, X, Y, brk) {
    letter(ctx, 'g', 937, 512);
    headers(ctx, [1052, 518, 1173, 513, 1289, 518]);
    txt(ctx, 'Fasni or vehicle', 1173, 553, { size: 14 });
    ctx.strokeStyle = ARROW; ctx.lineWidth = 1.6;
    [9, 48, 60, 72].forEach(function(t) {
      var x = X(brk(t)), y0 = Y(39.85), y1 = Y(38.1);
      ctx.beginPath();
      ctx.moveTo(x, y0); ctx.lineTo(x, y1);
      ctx.moveTo(x - 5, y1 - 8); ctx.lineTo(x, y1); ctx.lineTo(x + 5, y1 - 8);
      ctx.stroke();
    });
    yTitle(ctx, [{ t: 'SubQ body temp. (°C)' }], 917, 694);
    txt(ctx, 'Time (h)', 1183, 888, { size: TITLE });
    keyRow(ctx, [
      { x: 968, color: BLUE, parts: [{ t: '2cyc + fasni' }] },
      { x: 1139, color: RED, parts: [{ t: '2cyc + vehicle' }] },
      { x: 1327, color: GREEN, parts: [{ t: 'TN' }] }
    ], 927);
  }
});

// h: fasni homeothermy
kmPanel({
  box: [1370, 490, 430, 450], area: [1492, 557.8, 1783, 824],
  series: [
    { t: hTimeKO, v: hSurvKO, color: BLUE_LN, parts: [{ t: '2cyc + fasni' }] },
    { t: hTimeWT, v: hSurvWT, color: RED_LN, parts: [{ t: '2cyc + vehicle' }] }
  ],
  sig: [7.92, 96.6, 65.4, 81.4], key: [1518, 773, 27],
  yt: [1415, 690], xt: ['Time into secondary', 'cold challenge (h)', 1638, 888], letter: ['h', 1405, 513]
});

// i: VO2 trace
(function() {
  var box = [0, 980, 540, 415], area = [108, 1043, 478, 1298];
  function ds(vals, fill, line) {
    return {
      data: iTime.map(function(t, i) { return { x: t, y: vals[i] }; }),
      borderColor: line, backgroundColor: fill, pointBackgroundColor: fill, pointBorderColor: '#1e1e1e',
      pointBorderWidth: 1, pointRadius: 6, borderWidth: 1.5, tension: 0, clip: false
    };
  }
  makeChart('line', box, area, [ds(iWT, RED, RED_LN), ds(iKO, BLUE, BLUE_LN)], {
    x: linAxis(0, 150, iXTicks, { tick: 9, pad: 12, fmt: function(v) { return v % 50 === 0 ? String(v) : ''; } }),
    y: linAxis(0, 6000, iYTicks, { tick: 9, pad: 9, fmt: comma })
  }, {
    mid: function(ctx, X, Y) {
      errBars(ctx, X, Y, iTime, iKO, iKOerr, 5, '#555');
      errBars(ctx, X, Y, iTime, iWT, iWTerr, 5, '#555');
    },
    top: function(ctx, X, Y) {
      extAxis(ctx, area, 9);
      letter(ctx, 'i', 0, 1003);
      var ax = X(29);
      txt(ctx, 'NA', ax + 1, Y(3250), { size: 21 });
      ctx.strokeStyle = ARROW; ctx.lineWidth = 1.6;
      ctx.beginPath();
      ctx.moveTo(ax, Y(2870)); ctx.lineTo(ax, Y(1840));
      ctx.moveTo(ax - 5, Y(1840) - 9); ctx.lineTo(ax, Y(1840)); ctx.lineTo(ax + 5, Y(1840) - 9);
      ctx.stroke();
      yTitle(ctx, [{ t: 'VO' }, { t: '2', sub: true }, { t: ' (ml kg' }, { t: '−1', sup: true }, { t: ' h' }, { t: '−1', sup: true }, { t: ')' }], 15, 1172);
      txt(ctx, 'Time (min)', 293, 1363, { size: TITLE });
      [[BLUE, BLUE_LN, [{ t: 'Scap', it: true }, { t: 'ΔUcp1', it: true, sup: true }], 1247],
       [RED, RED_LN, [{ t: 'Scap', it: true }, { t: 'fl/fl', sup: true }], 1275]].forEach(function(k) {
        ctx.strokeStyle = k[1]; ctx.lineWidth = 1.5;
        ctx.beginPath(); ctx.moveTo(358, k[3]); ctx.lineTo(388, k[3]); ctx.stroke();
        ctx.beginPath(); ctx.arc(374, k[3], 6, 0, Math.PI * 2); ctx.fillStyle = k[0]; ctx.fill();
        ctx.lineWidth = 1; ctx.strokeStyle = '#1e1e1e'; ctx.stroke();
        rich(ctx, k[2], 398, k[3], { size: 22, mid: true });
      });
    }
  });
})();

// j: VO2 AUC
dotPanel({
  box: [540, 980, 400, 415], area: [700, 1022, 904, 1297], ymin: 200000, ymax: 400000, yticks: jYTicks,
  ypad: 9, tickSize: 17, yfmt: function(v) { return (v / 100000).toFixed(1) + ' × 10⁵'; },
  groups: [{ vals: jFlox, color: RED }, { vals: jKO, color: BLUE }],
  r: 3.8, sMax: 15.4, wMax: 26, meanW: 29, capW: 14.5, labAt: [23, 30, 22],
  catLabels: [[{ t: 'Scap' }, { t: 'flox', it: true, sup: true }], [{ t: 'Scap' }, { t: 'ΔUcp1', it: true, sup: true }]],
  brackets: [{ c1: 1, c2: 2, top: 399000, l1: 391000, l2: 291000, label: '*', ly: 410000 }],
  extra: function(ctx) {
    letter(ctx, 'j', 577, 1001);
    yTitle(ctx, [{ t: 'VO' }, { t: '2', sub: true }, { t: ' area under curve' }], 583, 1160);
  }
});

// k: GTT
(function() {
  var box = [940, 980, 530, 415], area = [1055, 1039, 1444, 1298];
  function ds(vals, fill, line) {
    return {
      data: kTime.map(function(t, i) { return { x: t, y: vals[i] }; }),
      borderColor: line, backgroundColor: fill, pointBackgroundColor: fill, pointBorderColor: '#1e1e1e',
      pointBorderWidth: 1, pointRadius: 6, borderWidth: 2.5, tension: 0, clip: false
    };
  }
  makeChart('line', box, area, [ds(kKO, BLUE, BLUE_LN), ds(kWT, RED, RED_LN), ds(kNaive, GREEN, GREEN_LN)], {
    x: linAxis(0, 150, kXTicks, { tick: 9, pad: 12 }),
    y: linAxis(0, 400, kYTicks, { tick: 9, pad: 9 })
  }, {
    mid: function(ctx, X, Y) {
      errBars(ctx, X, Y, kTime, kNaive, kNaiveErr, 5, '#555');
      errBars(ctx, X, Y, kTime, kWT, kWTerr, 5, '#555');
      errBars(ctx, X, Y, kTime, kKO, kKOerr, 5, '#555');
    },
    top: function(ctx, X, Y) {
      extAxis(ctx, area, 9);
      letter(ctx, 'k', 962, 1006);
      yTitle(ctx, [{ t: 'Glucose (mg dl' }, { t: '−1', sup: true }, { t: ')' }], 972, 1168);
      txt(ctx, 'Time (min)', 1250, 1363, { size: TITLE });
      [[GREEN, GREEN_LN, [{ t: 'Cold-naïve ' }, { t: 'Scap', it: true }, { t: 'fl/fl', sup: true }], 1246],
       [RED, RED_LN, [{ t: 'Cold-experienced ' }, { t: 'Scap', it: true }, { t: 'fl/fl', sup: true }], 1266],
       [BLUE, BLUE_LN, [{ t: 'Cold-experienced ' }, { t: 'Scap', it: true }, { t: 'ΔUcp1', it: true, sup: true }], 1286]
      ].forEach(function(k) {
        ctx.strokeStyle = k[1]; ctx.lineWidth = 2.5;
        ctx.beginPath(); ctx.moveTo(1062, k[3]); ctx.lineTo(1090, k[3]); ctx.stroke();
        ctx.beginPath(); ctx.arc(1076, k[3], 6, 0, Math.PI * 2); ctx.fillStyle = k[0]; ctx.fill();
        ctx.lineWidth = 1; ctx.strokeStyle = '#1e1e1e'; ctx.stroke();
        rich(ctx, k[2], 1100, k[3], { size: 21, mid: true });
      });
    }
  });
})();

// l: GTT AUC
dotPanel({
  box: [1450, 980, 350, 415], area: [1629, 1046, 1796, 1296], ymin: 0, ymax: 20000, yticks: lYTicks,
  ypad: 9, tickSize: 17, yfmt: comma,
  groups: [{ vals: lNaive, color: GREEN }, { vals: lWT, color: RED }, { vals: lKO, color: BLUE }],
  r: 3.8, sMax: 15, wMax: 26, meanW: 17, capW: 8,
  brackets: [
    { c1: 1, c2: 2, top: 18108, l1: 16937, l2: 12197, label: '**', ly: 19040 },
    { c1: 1, c2: 3, top: 21304, l1: 19786, l2: 20133, label: 'NS', ly: 22320 }
  ],
  extra: function(ctx, X) {
    letter(ctx, 'l', 1510, 1003);
    yTitle(ctx, [{ t: 'GTT area under curve' }], 1520, 1170);
    [[GREEN, GREEN_LN], [RED, RED_LN], [BLUE, BLUE_LN]].forEach(function(c, i) {
      var x = X(i + 1), y = 1317;
      ctx.strokeStyle = c[1]; ctx.lineWidth = 2.5;
      ctx.beginPath(); ctx.moveTo(x - 14, y); ctx.lineTo(x + 14, y); ctx.stroke();
      ctx.beginPath(); ctx.arc(x, y, 6, 0, Math.PI * 2); ctx.fillStyle = c[0]; ctx.fill();
      ctx.lineWidth = 1; ctx.strokeStyle = '#1e1e1e'; ctx.stroke();
    });
  }
});
</script>
</body>
</html>
